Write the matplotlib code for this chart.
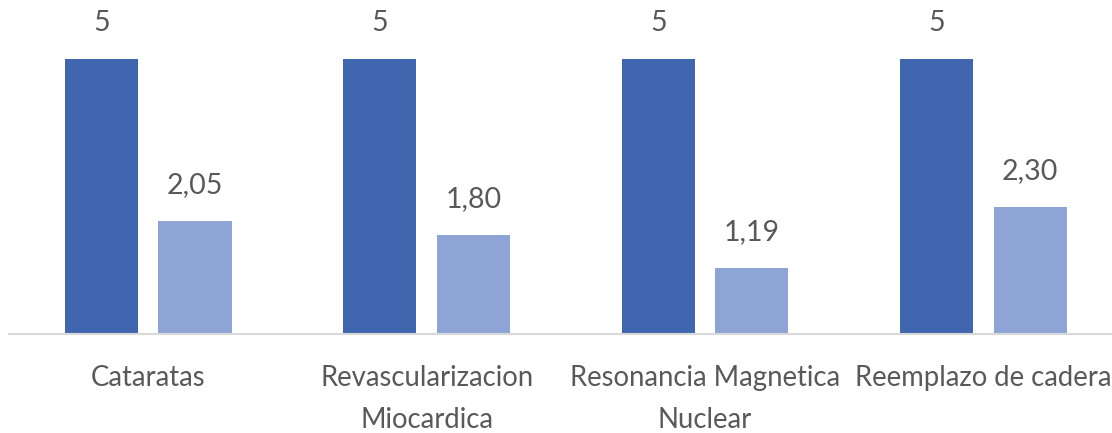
import matplotlib.pyplot as plt
import numpy as np

categories = ["Cataratas", "Revascularizacion\nMiocardica",
              "Resonancia Magnetica\nNuclear", "Reemplazo de cadera"]
serie_a = [5, 5, 5, 5]
serie_b = [2.05, 1.80, 1.19, 2.30]
labels_a = ["5", "5", "5", "5"]
labels_b = ["2,05", "1,80", "1,19", "2,30"]

plt.rcParams['font.family'] = ['Lato', 'DejaVu Sans']

W, H = 1112, 433
fig = plt.figure(figsize=(W / 100, H / 100), dpi=100)
ax = fig.add_axes([9 / W, 99.5 / H, (W - 9) / W, 329.4 / H])

x = np.arange(len(categories))
bw = 0.263
off = 0.168
bars_a = ax.bar(x - off, serie_a, bw, color='#3F66AE', zorder=2)
bars_b = ax.bar(x + off, serie_b, bw, color='#8EA4D5', zorder=2)

txt = '#595959'
for bars, labs in ((bars_a, labels_a), (bars_b, labels_b)):
    for b, lab in zip(bars, labs):
        ax.annotate(lab, (b.get_x() + b.get_width() / 2, b.get_height()),
                    xytext=(0, 26), textcoords='offset points',
                    ha='center', va='center', fontsize=20.5, color=txt)

ax.set_xlim(-0.5, 3.462)
ax.set_ylim(0, 6.0)
ax.set_xticks(x)
ax.set_xticklabels(categories, fontsize=19.8, color=txt, linespacing=1.75)
ax.tick_params(axis='x', length=0, pad=23)
ax.set_yticks([])
for s in ('top', 'right', 'left'):
    ax.spines[s].set_visible(False)
ax.spines['bottom'].set_color('#D9D9D9')
ax.spines['bottom'].set_linewidth(1.5)

fig.savefig('out.png', dpi=100)
